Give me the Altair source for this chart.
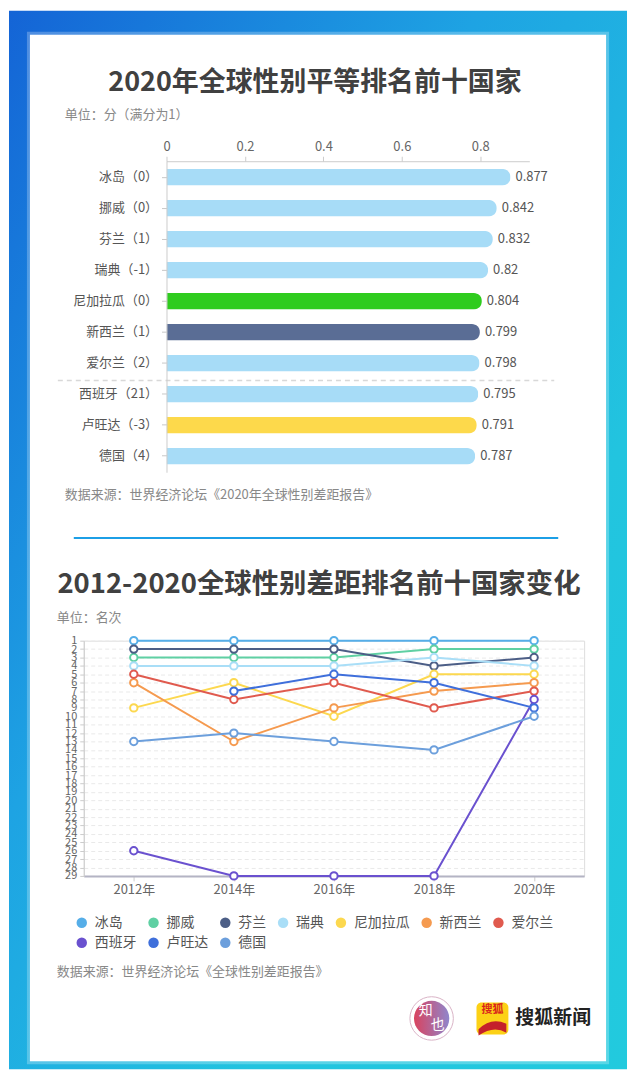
import altair as alt
import pandas as pd

FONT = "Noto Sans CJK SC"

# ---------------- data: bar chart ----------------
bar_labels = ["冰岛（0）", "挪威（0）", "芬兰（1）", "瑞典（-1）", "尼加拉瓜（0）",
              "新西兰（1）", "爱尔兰（2）", "西班牙（21）", "卢旺达（-3）", "德国（4）"]
bar_values = [0.877, 0.842, 0.832, 0.82, 0.804, 0.799, 0.798, 0.795, 0.791, 0.787]
bar_palette = ["#a7dcf7", "#a7dcf7", "#a7dcf7", "#a7dcf7", "#2fcc1e",
               "#5a6d95", "#a7dcf7", "#a7dcf7", "#fdd94b", "#a7dcf7"]
bar_ticks = [0, 0.2, 0.4, 0.6, 0.8]

# ---------------- data: line chart ----------------
years = ["2012年", "2014年", "2016年", "2018年", "2020年"]
countries = ["冰岛", "挪威", "芬兰", "瑞典", "尼加拉瓜", "新西兰", "爱尔兰", "西班牙", "卢旺达", "德国"]
rank_iceland = [1, 1, 1, 1, 1]
rank_norway = [3, 3, 3, 2, 2]
rank_finland = [2, 2, 2, 4, 3]
rank_sweden = [4, 4, 4, 3, 4]
rank_nicaragua = [9, 6, 10, 5, 5]
rank_newzealand = [6, 13, 9, 7, 6]
rank_ireland = [5, 8, 6, 9, 7]
rank_spain = [26, 29, 29, 29, 8]
rank_rwanda = [None, 7, 5, 6, 9]
rank_germany = [13, 12, 13, 14, 10]
rank_ticks = list(range(1, 30))
line_palette = ["#56aee8", "#5fd0a3", "#4c5e86", "#a9def7", "#fcd84f",
                "#f59a4f", "#e05a4e", "#6a51cf", "#3f6fdb", "#6c9fdc"]

all_ranks = [rank_iceland, rank_norway, rank_finland, rank_sweden, rank_nicaragua,
             rank_newzealand, rank_ireland, rank_spain, rank_rwanda, rank_germany]
rows = []
for c, rr in zip(countries, all_ranks):
    for y, r in zip(years, rr):
        if r is not None:
            rows.append({"country": c, "year": y, "rank": r})
line_df = pd.DataFrame(rows)
bar_df = pd.DataFrame({"label": bar_labels, "value": bar_values})
one = pd.DataFrame({"k": [0]})


def txt(s, x, y, size, color, weight="normal", align="left"):
    return alt.Chart(one).mark_text(
        text=s, fontSize=size, color=color, fontWeight=weight, align=align,
        baseline="middle", font=FONT
    ).encode(x=alt.value(x), y=alt.value(y))


# ---------------- decorations (drawn first, under everything) ----------------
bg = alt.Chart(one).mark_rect(
    fill=alt.LinearGradient(
        gradient="linear", x1=0, y1=0, x2=1, y2=1,
        stops=[alt.GradientStop(color="#1464d6", offset=0),
               alt.GradientStop(color="#1ea3e3", offset=0.38),
               alt.GradientStop(color="#22c4df", offset=0.7),
               alt.GradientStop(color="#22cade", offset=1)])
).encode(x=alt.value(-75), x2=alt.value(545), y=alt.value(-151), y2=alt.value(911))

shadow = alt.Chart(one).mark_rect(fill="white", opacity=0.25).encode(
    x=alt.value(-57), x2=alt.value(527), y=alt.value(-130), y2=alt.value(906))
card = alt.Chart(one).mark_rect(fill="white").encode(
    x=alt.value(-54), x2=alt.value(524), y=alt.value(-127), y2=alt.value(903))

title1 = txt("2020年全球性别平等排名前十国家", 232, -78, 27, "#404040", "bold", "center")
unit1 = txt("单位：分（满分为1）", -19, -46, 13, "#888888")
sep = alt.Chart(one).mark_rule(color="#d8d8d8", strokeDash=[5, 4], strokeWidth=1.5).encode(
    x=alt.value(-26), x2=alt.value(472), y=alt.value(220))
src1 = txt("数据来源：世界经济论坛《2020年全球性别差距报告》", -19, 335, 13, "#888888")
divider = alt.Chart(one).mark_rule(color="#1c9fe6", strokeWidth=2).encode(
    x=alt.value(-10), x2=alt.value(476), y=alt.value(378))
title2 = txt("2012-2020全球性别差距排名前十国家变化", 236, 425, 27.5, "#404040", "bold", "center")
unit2 = txt("单位：名次", -27, 458, 13, "#888888")
src2 = txt("数据来源：世界经济论坛《全球性别差距报告》", -27, 813, 13, "#888888")

logo_ring = alt.Chart(one).mark_point(shape="circle", filled=True, fill="white", stroke="#d9b3c6",
                                      strokeWidth=1, size=1900, opacity=1).encode(
    x=alt.value(349), y=alt.value(860))
logo_disc = alt.Chart(one).mark_point(
    shape="circle", filled=True, size=1250, opacity=1,
    fill=alt.LinearGradient(gradient="linear", x1=0, y1=0, x2=1, y2=0,
                            stops=[alt.GradientStop(color="#d9435f", offset=0),
                                   alt.GradientStop(color="#8f86cc", offset=1)])
).encode(x=alt.value(349), y=alt.value(860))
logo_t1 = txt("知", 343, 853, 14, "white", "normal", "center")
logo_t2 = txt("也", 355, 867, 14, "white", "normal", "center")
sohu_box = alt.Chart(one).mark_rect(fill="#fcd116", cornerRadius=5).encode(
    x=alt.value(394), x2=alt.value(426), y=alt.value(844), y2=alt.value(876))
sohu_swoosh = alt.Chart(one).mark_point(
    shape="M -1 0.35 Q -0.1 -0.55 1 -0.05 L 1 0.6 Q 0.1 0.05 -1 0.8 Z",
    filled=True, fill="#c4202b", size=780, opacity=1).encode(x=alt.value(410), y=alt.value(866))
sohu_t = txt("搜狐", 410, 852, 11, "#d9251c", "bold", "center")
sohu_name = txt("搜狐新闻", 433, 860, 19, "#222222", "bold", "left")

# ---------------- bar chart ----------------
xs = alt.Scale(domain=[0, 0.925], range=[83, 447], nice=False, zero=True)
ybar = alt.Y("label:N", sort=bar_labels,
             scale=alt.Scale(paddingInner=0.47, paddingOuter=0.25),
             axis=alt.Axis(title=None, offset=-83, labelFontSize=13, labelColor="#555555",
                           tickColor="#c8c8c8", tickSize=5, domainColor="#cccccc",
                           labelPadding=4, labelFont=FONT, zindex=1))
xbar = alt.X("value:Q", scale=xs,
             axis=alt.Axis(orient="top", values=bar_ticks, format="~g", title=None, grid=False,
                           labelFontSize=13, labelColor="#666666", tickColor="#cccccc",
                           tickSize=5, domainColor="#cccccc", labelPadding=3,
                           labelFlush=False, labelFont=FONT, zindex=1))
bars = alt.Chart(bar_df).mark_bar(cornerRadiusEnd=8).encode(
    x=xbar, y=ybar,
    color=alt.Color("label:N", scale=alt.Scale(domain=bar_labels, range=bar_palette), legend=None))
bar_text = alt.Chart(bar_df).mark_text(align="left", dx=5, baseline="middle", fontSize=13,
                                       color="#555555", font=FONT).encode(
    x=alt.X("value:Q", scale=xs), y=alt.Y("label:N", sort=bar_labels),
    text=alt.Text("value:Q", format="~g"))

top = alt.layer(bg, shadow, card, title1, unit1, sep, src1, divider, title2, unit2, src2,
                logo_ring, logo_disc, logo_t1, logo_t2, sohu_box, sohu_swoosh, sohu_t, sohu_name,
                bars, bar_text).properties(width=447, height=312)

# ---------------- line chart ----------------
xline = alt.X("year:O", sort=years, scale=alt.Scale(type="point", padding=0.5),
              axis=alt.Axis(title=None, labelAngle=0, labelFontSize=13, labelColor="#666666",
                            tickColor="#cccccc", tickSize=5, domainColor="#b4b4c4", domainWidth=2,
                            labelPadding=3, grid=False, labelFont=FONT))
yline = alt.Y("rank:Q", scale=alt.Scale(domain=[1, 29], reverse=True, nice=False, zero=False),
              axis=alt.Axis(title=None, values=rank_ticks, labelFontSize=11, labelColor="#666666",
                            labelOverlap=False, labelFlush=False, grid=True, gridDash=[4, 3],
                            gridColor="#e9e9e9", tickColor="#cccccc", tickSize=4,
                            domainColor="#cccccc", labelPadding=3, labelFont=FONT))
cscale = alt.Scale(domain=countries, range=line_palette)
legend_def = alt.Legend(title=None, orient="none", legendX=-9, legendY=276,
                        direction="horizontal", columns=7, gridAlign="each",
                        columnPadding=10, rowPadding=6, labelFontSize=14,
                        labelColor="#555555", symbolType="circle", symbolSize=110,
                        symbolStrokeWidth=0, symbolOpacity=1, labelOffset=6,
                        padding=0, labelFont=FONT)

legend_layer = alt.Chart(line_df).mark_circle(opacity=1, size=10).transform_filter("false").encode(
    x=xline, y=yline, color=alt.Color("country:N", scale=cscale, legend=legend_def))
lines = alt.Chart(line_df).mark_line(strokeWidth=2).encode(
    x=xline, y=yline, color=alt.Color("country:N", scale=cscale))
points = alt.Chart(line_df).mark_point(filled=False, fill="white", size=55, strokeWidth=2,
                                       opacity=1).encode(
    x=xline, y=yline, color=alt.Color("country:N", scale=cscale))

bottom = alt.layer(legend_layer, lines, points).properties(width=502, height=236)

chart = alt.vconcat(top, bottom, spacing=169, bounds="flush").resolve_scale(
    color="independent"
).properties(
    padding=0, background="white"
).configure_view(strokeWidth=0).configure(font=FONT)

chart.save("out.html", embed_options={"renderer": "svg", "actions": False})
